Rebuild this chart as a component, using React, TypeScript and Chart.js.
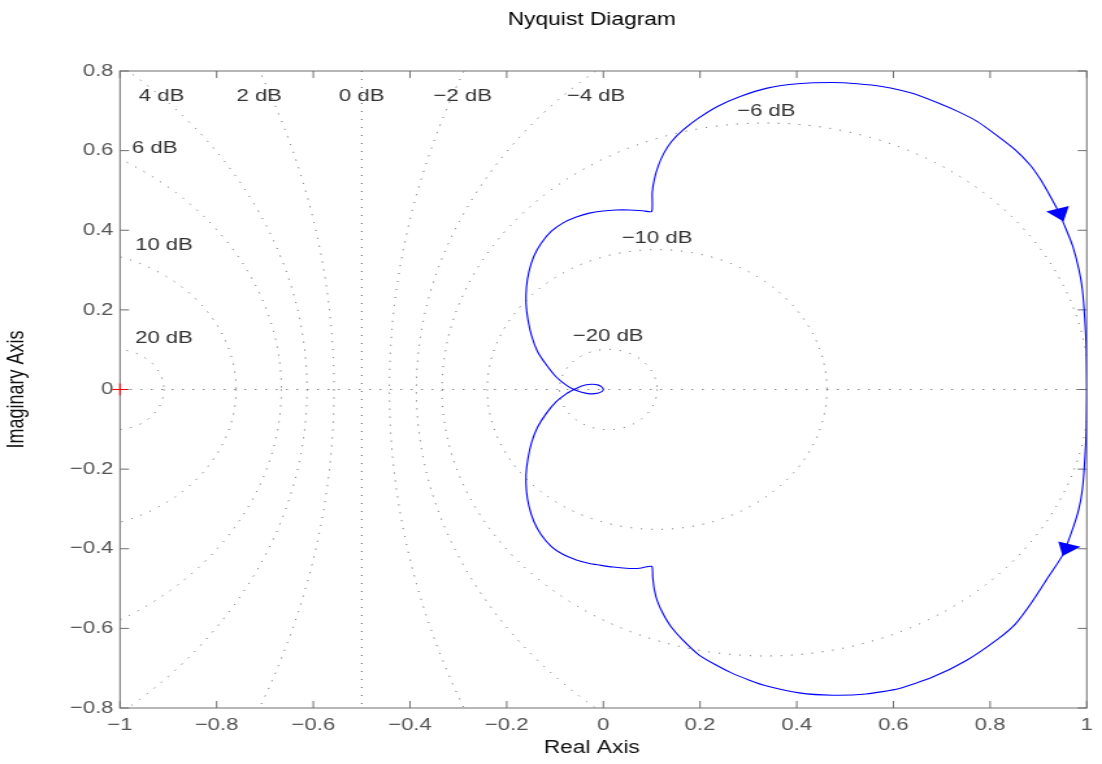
import React, { useEffect, useRef } from "react";
import { Chart, registerables } from "chart.js";

Chart.register(...registerables);

// ---------- data ----------
const chartTitle = "Nyquist Diagram";
const xAxisTitle = "Real Axis";
const yAxisTitle = "Imaginary Axis";

const xTicks = [-1, -0.8, -0.6, -0.4, -0.2, 0, 0.2, 0.4, 0.6, 0.8, 1];
const yTicks = [-0.8, -0.6, -0.4, -0.2, 0, 0.2, 0.4, 0.6, 0.8];

// constant-gain (M-circle) grid levels, dB
const gridDb = [20, 10, 6, 4, 2, 0, -2, -4, -6, -10, -20];

// grid labels and where they sit (data coordinates)
const gridLabels = ["4 dB", "2 dB", "0 dB", "\u22122 dB", "\u22124 dB", "\u22126 dB", "6 dB", "10 dB", "20 dB", "\u221210 dB", "\u221220 dB"];
const gridLabelRe = [-0.914, -0.712, -0.5, -0.291, -0.015, 0.337, -0.928, -0.909, -0.909, 0.111, 0.010];
const gridLabelIm = [0.737, 0.737, 0.737, 0.737, 0.737, 0.698, 0.606, 0.363, 0.129, 0.380, 0.133];

// Nyquist curve, upper branch (from G = 1 to the origin)
const upperRe = [1.000, 0.999, 0.996, 0.991, 0.984, 0.971, 0.958, 0.943, 0.925, 0.905, 0.882, 0.852, 0.813, 0.774, 0.734, 0.694, 0.639, 0.576, 0.525, 0.473, 0.402, 0.339, 0.283, 0.236, 0.196, 0.165, 0.141, 0.125, 0.113, 0.105, 0.101, 0.100, 0.081, 0.054, 0.026, -0.001, -0.029, -0.056, -0.084, -0.108, -0.129, -0.144, -0.154, -0.159, -0.160, -0.156, -0.148, -0.136, -0.118, -0.098, -0.077, -0.061, -0.045, -0.027, -0.010, -0.002, 0.000];
const upperIm = [0.000, 0.100, 0.175, 0.250, 0.300, 0.360, 0.400, 0.443, 0.484, 0.526, 0.565, 0.602, 0.639, 0.673, 0.698, 0.719, 0.744, 0.761, 0.768, 0.771, 0.768, 0.757, 0.736, 0.711, 0.681, 0.652, 0.623, 0.593, 0.560, 0.526, 0.493, 0.447, 0.449, 0.451, 0.451, 0.4485, 0.443, 0.433, 0.418, 0.397, 0.367, 0.334, 0.296, 0.258, 0.217, 0.175, 0.133, 0.095, 0.062, 0.032, 0.011, 0.000, -0.007, -0.011, -0.009, -0.004, 0.000];

// Nyquist curve, lower branch (from G = 1 to the origin)
const lowerRe = [1.000, 0.999, 0.996, 0.991, 0.983, 0.970, 0.950, 0.921, 0.887, 0.853, 0.818, 0.749, 0.680, 0.612, 0.543, 0.474, 0.405, 0.336, 0.302, 0.267, 0.233, 0.198, 0.164, 0.140, 0.123, 0.112, 0.105, 0.102, 0.100, 0.075, 0.047, 0.020, -0.008, -0.029, -0.056, -0.084, -0.108, -0.129, -0.144, -0.154, -0.159, -0.160, -0.156, -0.148, -0.136, -0.118, -0.098, -0.077, -0.061, -0.045, -0.025, -0.010, -0.002, 0.000];
const lowerIm = [0.000, -0.100, -0.175, -0.250, -0.303, -0.353, -0.416, -0.470, -0.533, -0.588, -0.625, -0.682, -0.723, -0.751, -0.765, -0.768, -0.762, -0.744, -0.730, -0.713, -0.692, -0.667, -0.629, -0.596, -0.562, -0.533, -0.500, -0.470, -0.444, -0.449, -0.449, -0.446, -0.441, -0.437, -0.428, -0.414, -0.394, -0.364, -0.331, -0.293, -0.256, -0.215, -0.173, -0.131, -0.094, -0.060, -0.031, -0.011, 0.000, 0.009, 0.013, 0.011, 0.005, 0.000];

// direction arrows (triangle vertices)
const arrowUpRe = [0.916, 0.963, 0.952];
const arrowUpIm = [0.447, 0.461, 0.422];
const arrowDnRe = [0.941, 0.987, 0.950];
const arrowDnIm = [-0.382, -0.395, -0.418];

// critical point
const criticalRe = [-1];
const criticalIm = [0];

// ---------- layout ----------
const STRETCH = 1.3;
const PAGE_W = 1102;
const PAGE_H = 764;
const CANVAS_W = Math.round(PAGE_W / STRETCH);
const FONT = '"Liberation Sans", Arial, Helvetica, sans-serif';
const PLOT_TOP = 71;
const PLOT_BOTTOM = 708;
const PLOT_LEFT = 120 / STRETCH;
const PLOT_RIGHT = 1088 / STRETCH;
const TEXT_CENTER_X = 592 / STRETCH;

const fmt = (v: number) => {
  const r = Math.round(v * 10) / 10;
  if (r === 0) return "0";
  return (r < 0 ? "\u2212" : "") + String(Math.abs(r));
};

const gridPlugin = {
  id: "ngrid",
  beforeDatasetsDraw(chart: any) {
    const { ctx, chartArea: a, scales } = chart;
    const x = scales.x;
    const y = scales.y;
    const pxX = Math.abs(x.getPixelForValue(1) - x.getPixelForValue(0));
    const pxY = Math.abs(y.getPixelForValue(1) - y.getPixelForValue(0));

    // title and x label
    ctx.save();
    ctx.fillStyle = "#000000";
    ctx.font = `17.5px ${FONT}`;
    ctx.textAlign = "center";
    ctx.textBaseline = "middle";
    ctx.fillText(chartTitle, TEXT_CENTER_X, 20.5);
    ctx.fillStyle = "#111111";
    ctx.fillText(xAxisTitle, TEXT_CENTER_X, 748);
    ctx.restore();

    ctx.save();
    ctx.beginPath();
    ctx.rect(a.left, a.top, a.right - a.left, a.bottom - a.top);
    ctx.clip();
    ctx.strokeStyle = "#555555";
    ctx.lineWidth = 1;
    ctx.setLineDash([1, 7]);
    for (const db of gridDb) {
      const m = Math.pow(10, db / 20);
      ctx.beginPath();
      if (db === 0) {
        const px = x.getPixelForValue(-0.5);
        ctx.moveTo(px, a.top);
        ctx.lineTo(px, a.bottom);
      } else {
        const c = -(m * m) / (m * m - 1);
        const r = Math.abs(m / (m * m - 1));
        ctx.ellipse(x.getPixelForValue(c), y.getPixelForValue(0), r * pxX, r * pxY, 0, 0, Math.PI * 2);
      }
      ctx.stroke();
    }
    const py = y.getPixelForValue(0);
    ctx.beginPath();
    ctx.moveTo(a.left, py);
    ctx.lineTo(a.right, py);
    ctx.stroke();
    ctx.restore();

    ctx.save();
    ctx.fillStyle = "#333333";
    ctx.font = `17px ${FONT}`;
    ctx.textAlign = "center";
    ctx.textBaseline = "middle";
    gridLabels.forEach((t, i) => {
      ctx.fillText(t, x.getPixelForValue(gridLabelRe[i]), y.getPixelForValue(gridLabelIm[i]));
    });
    ctx.restore();

    // axes box with inward ticks
    ctx.save();
    ctx.strokeStyle = "#6e6e6e";
    ctx.lineWidth = 1;
    ctx.strokeRect(a.left, a.top, a.right - a.left, a.bottom - a.top);
    const tl = 7;
    ctx.beginPath();
    for (const v of xTicks) {
      const px = x.getPixelForValue(v);
      ctx.moveTo(px, a.bottom);
      ctx.lineTo(px, a.bottom - tl);
      ctx.moveTo(px, a.top);
      ctx.lineTo(px, a.top + tl);
    }
    for (const v of yTicks) {
      const p = y.getPixelForValue(v);
      ctx.moveTo(a.left, p);
      ctx.lineTo(a.left + tl, p);
      ctx.moveTo(a.right, p);
      ctx.lineTo(a.right - tl, p);
    }
    ctx.stroke();
    ctx.restore();
  },
  afterDatasetsDraw(chart: any) {
    const { ctx, scales } = chart;
    const x = scales.x;
    const y = scales.y;
    ctx.save();
    ctx.fillStyle = "#0000ff";
    for (const [re, im] of [[arrowUpRe, arrowUpIm], [arrowDnRe, arrowDnIm]]) {
      ctx.beginPath();
      re.forEach((v: number, i: number) => {
        const px = x.getPixelForValue(v);
        const py = y.getPixelForValue(im[i]);
        if (i === 0) ctx.moveTo(px, py);
        else ctx.lineTo(px, py);
      });
      ctx.closePath();
      ctx.fill();
    }
    ctx.restore();
  },
};

export default function App() {
  const ref = useRef<HTMLCanvasElement | null>(null);

  useEffect(() => {
    if (!ref.current) return;
    Chart.defaults.font.family = FONT;

    const curve = [
      ...upperRe.map((v, i) => ({ x: v, y: upperIm[i] })),
      ...lowerRe.map((v, i) => ({ x: v, y: lowerIm[i] })).reverse(),
    ];
    const critical = criticalRe.map((v, i) => ({ x: v, y: criticalIm[i] }));

    const chart = new Chart(ref.current, {
      type: "scatter",
      data: {
        datasets: [
          {
            data: curve,
            showLine: true,
            borderColor: "#0000ff",
            borderWidth: 1.1,
            pointRadius: 0,
            fill: false,
            tension: 0.2,
          },
          {
            data: critical,
            pointStyle: "cross",
            pointRadius: 6,
            borderColor: "#ff0000",
            borderWidth: 1,
            clip: false,
          } as any,
        ],
      },
      options: {
        responsive: false,
        animation: false,
        events: [],
        layout: { padding: { left: 0, right: CANVAS_W - PLOT_RIGHT, top: PLOT_TOP, bottom: 0 } },
        plugins: {
          legend: { display: false },
          tooltip: { enabled: false },
          title: { display: false },
        },
        scales: {
          x: {
            type: "linear",
            min: -1,
            max: 1,
            afterBuildTicks: (s: any) => {
              s.ticks = xTicks.map((v) => ({ value: v }));
            },
            afterFit: (s: any) => {
              s.height = PAGE_H - PLOT_BOTTOM;
            },
            grid: { display: false, drawTicks: false },
            border: { display: false },
            ticks: {
              color: "#555555",
              font: { size: 17 },
              padding: 7,
              maxRotation: 0,
              autoSkip: false,
              callback: (v: any) => fmt(Number(v)),
            },
          },
          y: {
            type: "linear",
            min: -0.8,
            max: 0.8,
            afterBuildTicks: (s: any) => {
              s.ticks = yTicks.map((v) => ({ value: v }));
            },
            afterFit: (s: any) => {
              s.width = PLOT_LEFT;
            },
            grid: { display: false, drawTicks: false },
            border: { display: false },
            ticks: {
              color: "#555555",
              font: { size: 17 },
              padding: 5,
              autoSkip: false,
              callback: (v: any) => fmt(Number(v)),
            },
            title: {
              display: true,
              text: yAxisTitle,
              color: "#111111",
              font: { size: 18 },
              padding: { top: 2, bottom: 0 },
            },
          },
        },
      } as any,
      plugins: [gridPlugin],
    });

    return () => chart.destroy();
  }, []);

  return (
    <canvas
      ref={ref}
      width={CANVAS_W}
      height={PAGE_H}
      style={{
        position: "fixed",
        left: 0,
        top: 0,
        width: `${PAGE_W}px`,
        height: `${PAGE_H}px`,
        display: "block",
      }}
    />
  );
}
